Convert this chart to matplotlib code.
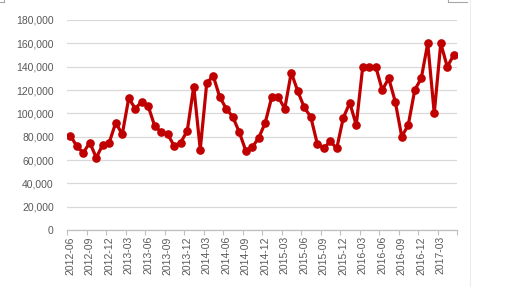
import matplotlib
matplotlib.use("Agg")
import matplotlib.pyplot as plt
from matplotlib.lines import Line2D
from matplotlib.ticker import FuncFormatter

# monthly series 2012-06 .. 2017-05
months = [f"{y}-{m:02d}" for y in range(2012, 2018) for m in range(1, 13)]
months = months[months.index("2012-06"):months.index("2017-05") + 1]

values = [81000, 72000, 66000, 75000, 62000, 73000, 75000,
          92000, 82000, 113000, 104000, 110000, 106000, 89000, 84000, 82000, 72000, 75000, 85000,
          123000, 69000, 126000, 132000, 114000, 104000, 97000, 84000, 68000, 71000, 79000, 92000,
          114000, 114000, 104000, 135000, 119000, 105000, 97000, 74000, 70000, 76000, 70000, 96000,
          109000, 90000, 140000, 140000, 140000, 120000, 130000, 110000, 80000, 90000, 120000, 130000,
          160000, 100000, 160000, 140000, 150000]

yticks = list(range(0, 180001, 20000))

plt.rcParams['font.family'] = ['Liberation Sans', 'DejaVu Sans']

fig = plt.figure(figsize=(5.12, 2.87), dpi=100)
ax = fig.add_axes([67 / 512, 1 - 230 / 287, 390 / 512, 210 / 287])

x = list(range(len(values)))
ax.plot(x, values, color='#C00000', linewidth=2.3, marker='o', markersize=5.2,
        markeredgecolor='#C00000', markerfacecolor='#C00000', zorder=3)

ax.set_xlim(-0.5, len(values) - 0.5)
ax.set_ylim(0, 180000)
ax.set_yticks(yticks)
ax.yaxis.set_major_formatter(FuncFormatter(lambda v, p: f"{int(v):,}"))
ax.grid(axis='y', color='#D9D9D9', linewidth=0.9)
ax.set_axisbelow(True)

# tick marks between categories, labels every 3 months
ax.set_xticks([i - 0.5 for i in range(0, len(values) + 1, 3)])
ax.set_xticklabels([])
ax.set_xticks(list(range(0, len(values), 3)), minor=True)
ax.set_xticklabels(months[::3], minor=True, rotation=90, fontsize=7.5, color='#595959')
ax.tick_params(axis='x', which='major', length=3.5, color='#BFBFBF', width=0.8)
ax.tick_params(axis='x', which='minor', length=0, pad=4.5)
ax.tick_params(axis='y', length=0, pad=9.5, labelsize=7.5, labelcolor='#595959')

for s in ['top', 'right', 'left']:
    ax.spines[s].set_visible(False)
ax.spines['bottom'].set_color('#BFBFBF')
ax.spines['bottom'].set_linewidth(0.9)

# faint frame remnants from the source screenshot
W, H = 512, 287
fig.add_artist(Line2D([470 / W, 470 / W], [0, 1], color='#EDEDED', linewidth=0.8))
fig.add_artist(Line2D([448 / W, 467 / W], [1 - 2 / H, 1 - 2 / H], color='#A6A6A6', linewidth=0.8))
fig.add_artist(Line2D([448 / W, 448 / W], [1 - 2 / H, 1], color='#A6A6A6', linewidth=0.8))
fig.add_artist(Line2D([0, 4 / W], [1 - 2 / H, 1 - 2 / H], color='#A6A6A6', linewidth=0.8))
fig.add_artist(Line2D([4 / W, 4 / W], [1 - 2 / H, 1], color='#A6A6A6', linewidth=0.8))

fig.savefig('out.png', dpi=100)
